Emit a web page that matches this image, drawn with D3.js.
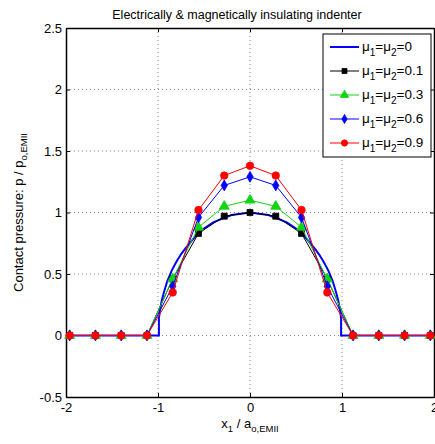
<!DOCTYPE html>
<html lang="en">
<head>
<meta charset="utf-8">
<title>Contact pressure</title>
<script src="https://d3js.org/d3.v7.min.js"></script>
<style>
  body { margin: 0; background: #fff; }
  svg { font-family: "Liberation Sans", Arial, sans-serif; display: block; }
  .grid line { stroke: #888; stroke-dasharray: 1,3; stroke-width: 1; }
  .axis path, .axis line { stroke: #000; }
  .axis text { font-size: 13px; fill: #000; }
</style>
</head>
<body>
<script>
// sample positions shared by the marked series
var xs = [-1.96, -1.68, -1.40, -1.12, -0.84, -0.56, -0.28, 0, 0.28, 0.56, 0.84, 1.12, 1.40, 1.68, 1.96];
var mu01 = [0, 0, 0, 0, 0.46, 0.83, 0.97, 1.00, 0.97, 0.83, 0.46, 0, 0, 0, 0];
var mu03 = [0, 0, 0, 0, 0.46, 0.88, 1.05, 1.10, 1.05, 0.88, 0.46, 0, 0, 0, 0];
var mu06 = [0, 0, 0, 0, 0.40, 0.96, 1.22, 1.29, 1.22, 0.96, 0.40, 0, 0, 0, 0];
var mu09 = [0, 0, 0, 0, 0.35, 1.02, 1.30, 1.38, 1.30, 1.02, 0.35, 0, 0, 0, 0];

var x0 = [-2, -0.99, -0.99, -0.98, -0.96, -0.94, -0.92, -0.90, -0.85, -0.80, -0.75, -0.70, -0.60, -0.50, -0.40, -0.30, -0.20, -0.10, 0,
          0.10, 0.20, 0.30, 0.40, 0.50, 0.60, 0.70, 0.75, 0.80, 0.85, 0.90, 0.92, 0.94, 0.96, 0.98, 0.99, 0.99, 2];
var mu0 = [0, 0, 0.14, 0.20, 0.28, 0.34, 0.39, 0.44, 0.53, 0.60, 0.66, 0.71, 0.80, 0.87, 0.92, 0.95, 0.98, 0.99, 1.00,
           0.99, 0.98, 0.95, 0.92, 0.87, 0.80, 0.71, 0.66, 0.60, 0.53, 0.44, 0.39, 0.34, 0.28, 0.20, 0.14, 0, 0];

var xTicks = [-2, -1, 0, 1, 2];
var yTicks = [-0.5, 0, 0.5, 1, 1.5, 2, 2.5];
var labels = ["0", "0.1", "0.3", "0.6", "0.9"];

var width = 435, height = 444;
var mLeft = 66, mRight = 434, mTop = 28, mBottom = 397;

var svg = d3.select("body").append("svg")
    .attr("width", width)
    .attr("height", height);

var x = d3.scaleLinear().domain([-2, 2]).range([mLeft, mRight]);
var y = d3.scaleLinear().domain([-0.5, 2.5]).range([mBottom, mTop]);

// dotted grid
var grid = svg.append("g").attr("class", "grid");
grid.selectAll(".gx")
    .data(xTicks.slice(1, -1))
  .enter().append("line")
    .attr("x1", x).attr("x2", x)
    .attr("y1", mTop).attr("y2", mBottom);
grid.selectAll(".gy")
    .data(yTicks.slice(1, -1))
  .enter().append("line")
    .attr("y1", y).attr("y2", y)
    .attr("x1", mLeft).attr("x2", mRight);

var fmt = function(d) { return String(d); };

svg.append("g").attr("class", "axis")
    .attr("transform", "translate(0," + mBottom + ")")
    .call(d3.axisBottom(x).tickValues(xTicks).tickFormat(fmt).tickSizeInner(-4).tickSizeOuter(0).tickPadding(6));
svg.append("g").attr("class", "axis")
    .attr("transform", "translate(0," + mTop + ")")
    .call(d3.axisTop(x).tickValues(xTicks).tickFormat("").tickSizeInner(-4).tickSizeOuter(0));
svg.append("g").attr("class", "axis")
    .attr("transform", "translate(" + mLeft + ",0)")
    .call(d3.axisLeft(y).tickValues(yTicks).tickFormat(fmt).tickSizeInner(-4).tickSizeOuter(0).tickPadding(4));
svg.append("g").attr("class", "axis")
    .attr("transform", "translate(" + mRight + ",0)")
    .call(d3.axisRight(y).tickValues(yTicks).tickFormat("").tickSizeInner(-4).tickSizeOuter(0));
svg.selectAll(".axis .domain").attr("stroke-width", 1.5);

var line = d3.line()
    .x(function(d) { return x(d[0]); })
    .y(function(d) { return y(d[1]); });

// mu = 0 thick blue
svg.append("path")
    .datum(d3.zip(x0, mu0))
    .attr("d", line)
    .attr("fill", "none")
    .attr("stroke", "#0000ff")
    .attr("stroke-width", 2);

var series = [
  { vals: mu01, color: "#000000", sym: d3.symbolSquare, size: 36 },
  { vals: mu03, color: "#14d214", sym: d3.symbolTriangle, size: 44 },
  { vals: mu06, color: "#0000ff", sym: d3.symbolDiamond, size: 34 },
  { vals: mu09, color: "#ff0000", sym: d3.symbolCircle, size: 44 }
];

series.forEach(function(s) {
  var pts = d3.zip(xs, s.vals);
  svg.append("path")
      .datum(pts)
      .attr("d", line)
      .attr("fill", "none")
      .attr("stroke", s.color)
      .attr("stroke-width", 1);
  svg.append("g").selectAll("path")
      .data(pts)
    .enter().append("path")
      .attr("transform", function(d) { return "translate(" + x(d[0]) + "," + y(d[1]) + ")"; })
      .attr("d", d3.symbol().type(s.sym).size(s.size))
      .attr("fill", s.color)
      .attr("stroke", s.color)
      .attr("stroke-width", 0.8);
});

// title
svg.append("text")
    .attr("x", 237).attr("y", 19)
    .attr("text-anchor", "middle")
    .style("font-size", "12.5px")
    .text("Electrically & magnetically insulating indenter");

// x label
var xl = svg.append("text")
    .attr("x", 250).attr("y", 428)
    .attr("text-anchor", "middle")
    .style("font-size", "13px");
xl.append("tspan").text("x");
xl.append("tspan").attr("dy", 4).style("font-size", "9.5px").text("1");
xl.append("tspan").attr("dy", -4).text(" / a");
xl.append("tspan").attr("dy", 4).style("font-size", "9.5px").text("o,EMII");

// y label
var yl = svg.append("text")
    .attr("transform", "translate(23," + ((mTop + mBottom) / 2) + ") rotate(-90)")
    .attr("text-anchor", "middle")
    .style("font-size", "13px");
yl.append("tspan").text("Contact pressure: p / p");
yl.append("tspan").attr("dy", 4).style("font-size", "9.5px").text("o,EMII");

// legend
var lg = svg.append("g").attr("transform", "translate(323,34)");
lg.append("rect")
    .attr("width", 108).attr("height", 123)
    .attr("fill", "#fff").attr("stroke", "#000").attr("stroke-width", 1);

var legendItems = [{ color: "#0000ff", sym: null, w: 2 }].concat(series.map(function(s) {
  return { color: s.color, sym: s.sym, size: s.size * 0.7, w: 1 };
}));

legendItems.forEach(function(it, i) {
  var gy = 13 + i * 24;
  var row = lg.append("g").attr("transform", "translate(0," + gy + ")");
  row.append("line")
      .attr("x1", 7).attr("x2", 36)
      .attr("stroke", it.color).attr("stroke-width", it.w);
  if (it.sym) {
    row.append("path")
        .attr("transform", "translate(21.5,0)")
        .attr("d", d3.symbol().type(it.sym).size(it.size))
        .attr("fill", it.color).attr("stroke", it.color).attr("stroke-width", 0.8);
  }
  var t = row.append("text")
      .attr("x", 39).attr("y", 4)
      .style("font-size", "13.5px");
  t.append("tspan").text("\u03bc");
  t.append("tspan").attr("dy", 5).style("font-size", "10px").text("1");
  t.append("tspan").attr("dy", -5).text("=\u03bc");
  t.append("tspan").attr("dy", 5).style("font-size", "10px").text("2");
  t.append("tspan").attr("dy", -5).text("=" + labels[i]);
});
</script>
</body>
</html>
